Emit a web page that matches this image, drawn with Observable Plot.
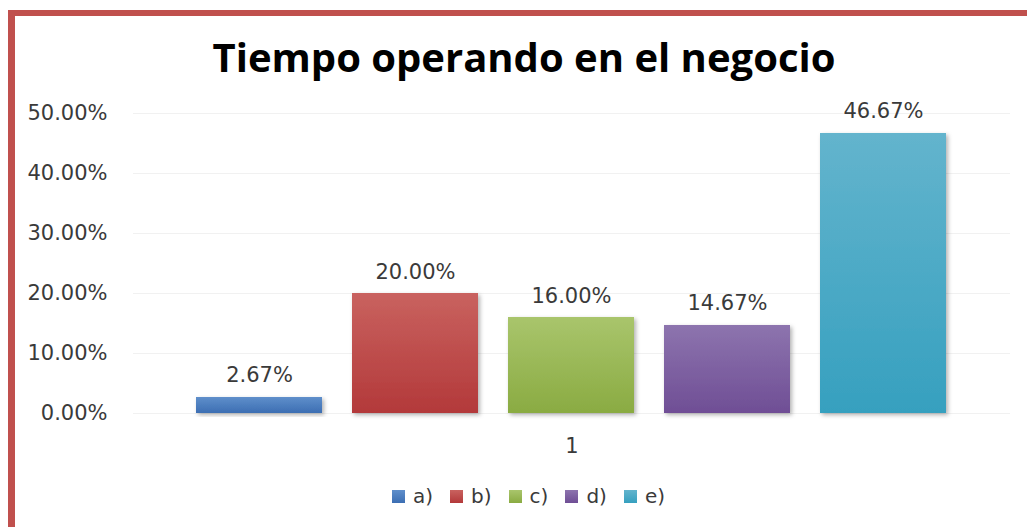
<!DOCTYPE html>
<html><head><meta charset="utf-8">
<script src="https://cdn.jsdelivr.net/npm/d3@7"></script>
<script src="https://cdn.jsdelivr.net/npm/@observablehq/plot@0.6"></script>
<style>
body{margin:0;background:#fff;}
#wrap{position:relative;width:1027px;height:527px;overflow:hidden;background:#fff;}
.bt{position:absolute;left:8px;top:10px;width:1019px;height:6px;background:#c0504d;}
.bl{position:absolute;left:8px;top:10px;width:7px;height:517px;background:#c0504d;}
#title{position:absolute;left:0;top:37px;width:1048px;text-align:center;font-family:"Open Sans";font-weight:bold;font-size:40px;line-height:40px;color:#000;white-space:nowrap;}
#chart{position:absolute;left:0;top:90px;}
#legend{position:absolute;left:392px;top:484px;display:flex;gap:17px;font-family:"DejaVu Sans";font-size:20px;color:#3a3a3a;}
.item{display:flex;align-items:center;height:24px;}
.sw{width:13px;height:13px;margin-right:8px;}
</style></head>
<body>
<div id="wrap">
  <div class="bt"></div><div class="bl"></div>
  <div id="title">Tiempo operando en el negocio</div>
  <div id="chart"></div>
  <div id="legend"></div>
</div>
<script>
const series = ["a)", "b)", "c)", "d)", "e)"];
const values = [2.67, 20.00, 16.00, 14.67, 46.67];
const group = ["1"];
const yTicks = [0, 10, 20, 30, 40, 50];
const colorTop = ["#5f8fcb", "#c9625f", "#a9c56c", "#8d74ae", "#63b4cd"];
const colorBottom = ["#3c6eb3", "#b3393a", "#8aab42", "#6f4e95", "#36a0bf"];
const titleText = "Tiempo operando en el negocio";

document.getElementById("title").textContent = titleText;

const data = series.map((s, i) => ({s, v: values[i]}));
const pct = d => d.toFixed(2) + "%";

const chart = Plot.plot({
  width: 1027, height: 380,
  marginLeft: 133, marginRight: 17, marginTop: 23, marginBottom: 57,
  style: {fontFamily: "DejaVu Sans", fontSize: "21px", color: "#3a3a3a", background: "transparent", overflow: "visible"},
  x: {domain: series, range: [181, 962], paddingInner: 0.192, paddingOuter: 0.096, axis: null},
  y: {domain: [0, 50], axis: null},
  color: {domain: series, range: series.map((_, i) => `url(#grad${i})`)},
  marks: [
    Plot.ruleY(yTicks, {stroke: "#f1f1f1", strokeWidth: 1}),
    Plot.axisY({ticks: yTicks, tickSize: 0, tickPadding: 26, tickFormat: pct, label: null, fill: "#3a3a3a", fontSize: 21}),
    Plot.barY(data, {x: "s", y: "v", fill: "s"}),
    Plot.text(data, {x: "s", y: "v", text: d => pct(d.v), lineAnchor: "bottom", dy: -15, fill: "#3a3a3a", fontSize: 21}),
    Plot.text(group, {frameAnchor: "bottom", text: d => d, lineAnchor: "bottom", dy: 39, fill: "#3a3a3a", fontSize: 21})
  ]
});

const svg = d3.select(chart);
const defs = svg.insert("defs", ":first-child");
series.forEach((s, i) => {
  const g = defs.append("linearGradient").attr("id", `grad${i}`).attr("x1", 0).attr("y1", 0).attr("x2", 0).attr("y2", 1);
  g.append("stop").attr("offset", "0%").attr("stop-color", colorTop[i]);
  g.append("stop").attr("offset", "100%").attr("stop-color", colorBottom[i]);
});
const f = defs.append("filter").attr("id", "shadow").attr("x", "-10%").attr("y", "-10%").attr("width", "130%").attr("height", "130%");
f.append("feDropShadow").attr("dx", 2).attr("dy", 2).attr("stdDeviation", 2).attr("flood-color", "#000").attr("flood-opacity", 0.3);
svg.selectAll("g[aria-label=bar] rect").attr("filter", "url(#shadow)");

document.getElementById("chart").appendChild(chart);

const legend = d3.select("#legend");
series.forEach((s, i) => {
  const it = legend.append("div").attr("class", "item");
  it.append("div").attr("class", "sw").style("background", `linear-gradient(${colorTop[i]}, ${colorBottom[i]})`);
  it.append("span").text(s);
});
</script>
</body></html>
